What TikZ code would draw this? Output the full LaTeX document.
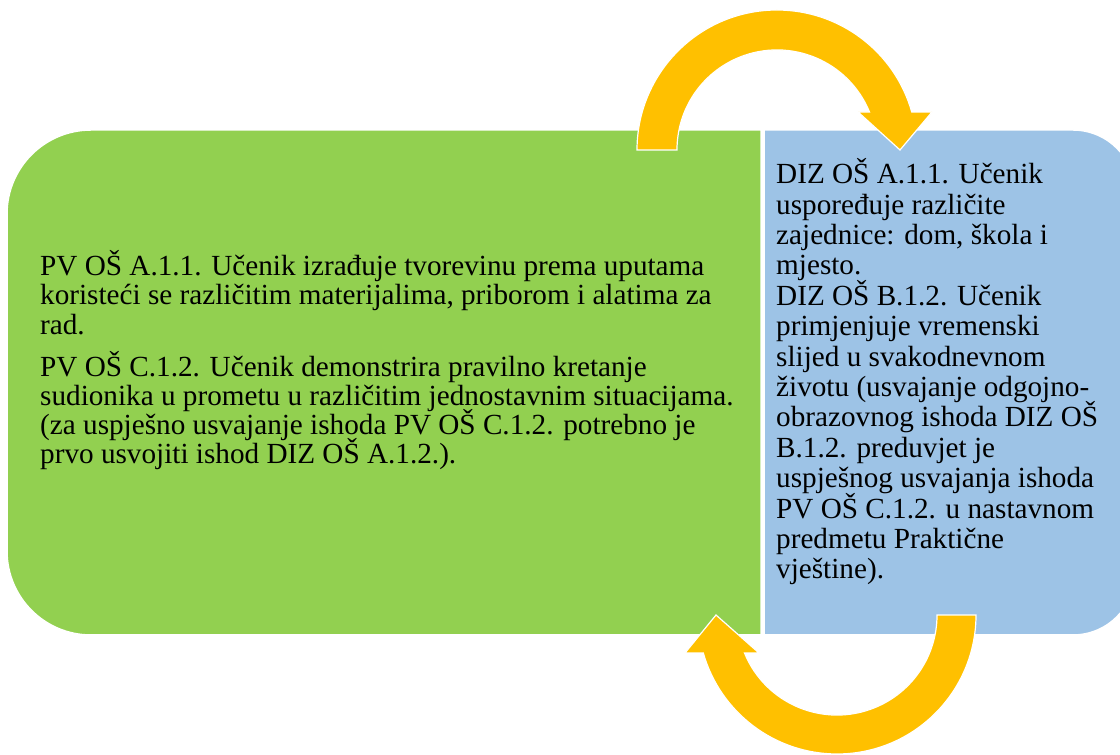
\documentclass[tikz,border=0pt]{standalone}
\usepackage{fontspec}
\setmainfont{Liberation Serif}
\usepackage{tikz}
\usetikzlibrary{positioning}
\definecolor{pvgreen}{HTML}{92D050}
\definecolor{dizblue}{HTML}{9DC3E6}
\definecolor{loopgold}{HTML}{FFC000}
\tikzstyle{panel} = [draw=white, line width=1.5pt]
\tikzstyle{loop} = [fill=loopgold, draw=white, line width=1.2pt]
\tikzstyle{txt} = [inner sep=0pt, align=left, font={\fontsize{29.2}{29.3}\selectfont\lineskiplimit=-50pt}]

\begin{document}
\begin{tikzpicture}[x=1pt, y=1pt]
  \useasboundingbox (0,0) rectangle (1120,755);
  \clip (0,0) rectangle (1120,755);
  % Draw panels
  \path [panel, fill=pvgreen] (761,120) -- (91,120) arc[start angle=270, end angle=180, radius=84pt]
    -- (7,541) arc[start angle=180, end angle=90, radius=84pt] -- (761,625) -- cycle;
  \path [panel, fill=dizblue] (764,120) -- (1073,120) arc[start angle=-90, end angle=0, radius=62pt]
    -- (1135,563) arc[start angle=0, end angle=90, radius=62pt] -- (764,625) -- cycle;
  % Place nodes (base = last line)
  \node [txt, anchor=base west] (pv) at (40,291) {PV OŠ A.1.1. Učenik izrađuje tvorevinu prema uputama\\
    koristeći se različitim materijalima, priborom i alatima za\\
    rad.\\[12.7pt]
    PV OŠ C.1.2. Učenik demonstrira pravilno kretanje\\
    sudionika u prometu u različitim jednostavnim situacijama.\\
    (za uspješno usvajanje ishoda PV OŠ C.1.2. potrebno je\\
    prvo usvojiti ishod DIZ OŠ A.1.2.).};
  \node [txt, anchor=base west, font={\fontsize{29.2}{30.4}\selectfont\lineskiplimit=-50pt}] (diz) at (776,176) {DIZ OŠ A.1.1. Učenik\\
    uspoređuje različite\\
    zajednice: dom, škola i\\
    mjesto.\\
    DIZ OŠ B.1.2. Učenik\\
    primjenjuje vremenski\\
    slijed u svakodnevnom\\
    životu (usvajanje odgojno-\\
    obrazovnog ishoda DIZ OŠ\\
    B.1.2. preduvjet je\\
    uspješnog usvajanja ishoda\\
    PV OŠ C.1.2. u nastavnom\\
    predmetu Praktične\\
    vještine).};
  % Draw loops
  \path [loop] (637,605) arc[start angle=180, end angle=15.7, radius=140pt] -- (932,643) -- (900,605)
    -- (858,643) -- (869.5,643) arc[start angle=22.3, end angle=180, radius=100pt] -- cycle;
  \path [loop] (976,140) arc[start angle=0, end angle=-164.15, radius=139pt] -- (685,102) -- (716,140)
    -- (759,102) -- (744.5,102) arc[start angle=-157.7, end angle=0, radius=100pt] -- cycle;
\end{tikzpicture}
\end{document}
